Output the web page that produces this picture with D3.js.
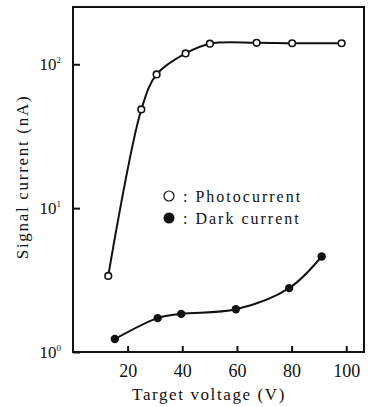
<!DOCTYPE html>
<html>
<head>
<meta charset="utf-8">
<script src="https://cdn.jsdelivr.net/npm/d3@7"></script>
<style>
  html, body { margin: 0; padding: 0; background: #fff; }
  svg { display: block; }
</style>
</head>
<body>
<div id="stage"></div>
<script>
// values
const photoVolts = [12.9, 25.0, 30.6, 41.2, 50.1, 67.2, 80.2, 98.3];
const photoCurrent = [3.38, 48.5, 85, 119, 139, 141, 140, 140];
const darkVolts = [15.3, 31.0, 39.6, 59.6, 79.1, 91.0];
const darkCurrent = [1.23, 1.72, 1.84, 1.98, 2.78, 4.61];
const xTicks = [20, 40, 60, 80, 100];
const yTicks = [1, 10, 100];
const yTickExp = ['0', '1', '2'];
const legendLabels = [': Photocurrent', ': Dark current'];

const width = 374, height = 407;
const plotLeft = 73, plotRight = 364, plotTop = 7, plotBottom = 352;
const serif = 'Liberation Serif';

const svg = d3.select('#stage').append('svg')
  .attr('width', width)
  .attr('height', height);

const x = d3.scaleLinear().domain([0, 106.5]).range([plotLeft, plotRight]);
const y = d3.scaleLog().domain([1, 250]).range([plotBottom, plotTop]);

// frame
svg.append('rect')
  .attr('x', plotLeft)
  .attr('y', plotTop)
  .attr('width', plotRight - plotLeft)
  .attr('height', plotBottom - plotTop)
  .style('fill', 'none')
  .style('stroke', '#111')
  .style('stroke-width', 2);

// x axis, ticks point inward
const xAxis = svg.append('g')
  .attr('transform', `translate(0,${plotBottom})`)
  .call(d3.axisBottom(x).tickValues(xTicks).tickSizeInner(-6).tickSizeOuter(0).tickPadding(12));
xAxis.select('.domain').remove();
xAxis.selectAll('line').style('stroke', '#111').style('stroke-width', 2);
xAxis.selectAll('text')
  .attr('font-family', serif)
  .attr('font-size', 18)
  .style('fill', '#111');

// y axis
const yAxis = svg.append('g')
  .attr('transform', `translate(${plotLeft},0)`)
  .call(d3.axisLeft(y).tickValues(yTicks).tickSizeInner(-7).tickSizeOuter(0).tickFormat(() => ''));
yAxis.select('.domain').remove();
yAxis.selectAll('line').style('stroke', '#111').style('stroke-width', 2);

const yLab = svg.append('g').selectAll('text')
  .data(yTicks)
  .join('text')
  .attr('x', plotLeft - 12)
  .attr('y', d => y(d) + 6)
  .attr('text-anchor', 'end')
  .attr('font-family', serif)
  .attr('font-size', 17)
  .style('fill', '#111');
yLab.append('tspan').text('10');
yLab.append('tspan')
  .attr('dy', -7)
  .attr('font-size', 9)
  .text((d, i) => yTickExp[i]);

// axis titles
svg.append('text')
  .attr('x', 209)
  .attr('y', 400)
  .attr('text-anchor', 'middle')
  .attr('font-family', serif)
  .attr('font-size', 17)
  .style('fill', '#111')
  .style('letter-spacing', '1.6px')
  .text('Target voltage (V)');

svg.append('text')
  .attr('transform', 'translate(28,177) rotate(-90)')
  .attr('text-anchor', 'middle')
  .attr('font-family', serif)
  .attr('font-size', 17)
  .style('fill', '#111')
  .style('letter-spacing', '1.7px')
  .text('Signal current (nA)');

// curves
const line = d3.line()
  .x(d => x(d[0]))
  .y(d => y(d[1]))
  .curve(d3.curveCatmullRom.alpha(0.5));

const photo = photoVolts.map((v, i) => [v, photoCurrent[i]]);
const dark = darkVolts.map((v, i) => [v, darkCurrent[i]]);

svg.append('path')
  .attr('d', line(photo))
  .style('fill', 'none')
  .style('stroke', '#111')
  .style('stroke-width', 2);

svg.append('path')
  .attr('d', line(dark))
  .style('fill', 'none')
  .style('stroke', '#111')
  .style('stroke-width', 2);

svg.append('g').selectAll('circle')
  .data(photo)
  .join('circle')
  .attr('cx', d => x(d[0]))
  .attr('cy', d => y(d[1]))
  .attr('r', 3.3)
  .style('fill', '#fff')
  .style('stroke', '#111')
  .style('stroke-width', 1.6);

svg.append('g').selectAll('circle')
  .data(dark)
  .join('circle')
  .attr('cx', d => x(d[0]))
  .attr('cy', d => y(d[1]))
  .attr('r', 4.2)
  .style('fill', '#111');

// legend
const legend = svg.append('g');
legend.append('circle')
  .attr('cx', 169).attr('cy', 196).attr('r', 5)
  .style('fill', '#fff').style('stroke', '#111').style('stroke-width', 1.2);
legend.append('circle')
  .attr('cx', 169).attr('cy', 218).attr('r', 5.5)
  .style('fill', '#111');
legend.selectAll('text')
  .data(legendLabels)
  .join('text')
  .attr('x', 183)
  .attr('y', (d, i) => 202 + i * 22)
  .attr('font-family', serif)
  .attr('font-size', 16)
  .style('fill', '#111')
  .style('letter-spacing', '2px')
  .text(d => d);
</script>
</body>
</html>
